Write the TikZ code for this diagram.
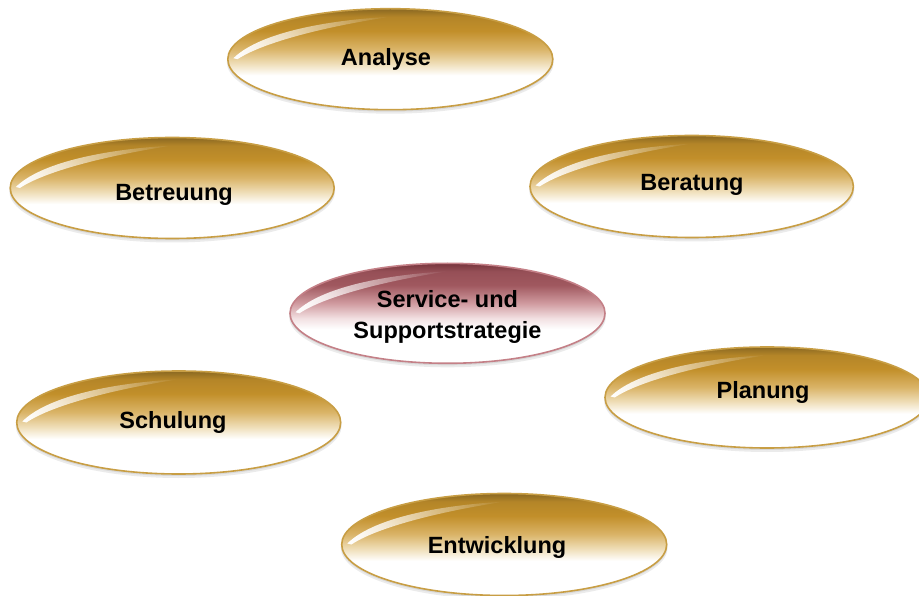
\documentclass[tikz,border=0pt]{standalone}
\usepackage{fontspec}
\setmainfont{Liberation Sans}
\usetikzlibrary{shapes.geometric,fadings}
\definecolor{gdark}{RGB}{138,104,34}
\definecolor{ggold}{RGB}{194,143,42}
\definecolor{glight}{RGB}{218,180,104}
\definecolor{gpale}{RGB}{240,224,188}
\definecolor{gborder}{RGB}{200,158,68}
\definecolor{rdark}{RGB}{118,52,60}
\definecolor{rmid}{RGB}{160,88,95}
\definecolor{rlight}{RGB}{208,155,160}
\definecolor{rpale}{RGB}{242,224,226}
\definecolor{rborder}{RGB}{196,128,135}
\pgfdeclareverticalshading{goldsh}{100bp}{color(0bp)=(white); color(42bp)=(white); color(47.5bp)=(gpale); color(55bp)=(glight); color(64bp)=(ggold); color(71bp)=(ggold!75!gdark); color(75bp)=(gdark); color(100bp)=(gdark)}
\pgfdeclareverticalshading{rosesh}{100bp}{color(0bp)=(white); color(42bp)=(white); color(47.5bp)=(rpale); color(55bp)=(rlight); color(64bp)=(rmid); color(71bp)=(rmid!75!rdark); color(75bp)=(rdark); color(100bp)=(rdark)}
\tikzfading[name=hlfade, left color=transparent!0, right color=transparent!100]
\tikzset{
  goldell/.style={ellipse, inner sep=0pt, shading=goldsh, draw=gborder, line width=1.6pt},
  roseell/.style={ellipse, inner sep=0pt, shading=rosesh, draw=rborder, line width=1.6pt},
  lbl/.style={inner sep=0pt, align=center, text=black, font=\fontsize{23.5}{31.7}\selectfont\bfseries}
}
\newcommand\glossy[9]{%
  \fill[black,opacity=0.08] (#2,#3+3) ellipse [x radius=#4+1, y radius=#5+1];
  \fill[black,opacity=0.08] (#2,#3+1.5) ellipse [x radius=#4+0.5, y radius=#5+0.5];
  \node[#6, minimum width={2*#4pt}, minimum height={2*#5pt}] (#1) at (#2,#3) {};
  \begin{scope}[shift={(#2,#3)}, x={(#4pt,0pt)}, y={(0pt,#5pt)}]
    \fill[white, path fading=hlfade] (-0.965,0.02) .. controls (-0.82,0.48) and (-0.45,0.76) .. (0.0,0.84) .. controls (-0.45,0.62) and (-0.8,0.3) .. (-0.94,0.0) -- cycle;
  \end{scope}
  \node[lbl] (#1-t) at (#7,#8) {#9};
}
\begin{document}
\begin{tikzpicture}[x=1pt,y=-1pt]
\fill[white] (0,0) rectangle (919,596);
\useasboundingbox (0,0) rectangle (919,596);
\glossy{analyse}{390.3}{59.2}{162.5}{50.5}{goldell}{386}{59.5}{Analyse}
\glossy{betreuung}{172.2}{188}{162}{50.5}{goldell}{174}{195}{Betreuung}
\glossy{beratung}{691.7}{186.5}{161.7}{51}{goldell}{692}{185}{Beratung}
\glossy{service}{447.5}{313.3}{157.5}{50}{roseell}{447.5}{317}{Service- und\\Supportstrategie}
\glossy{schulung}{178.7}{422.5}{162}{51.5}{goldell}{173}{422}{Schulung}
\glossy{planung}{767}{397.5}{162}{50.5}{goldell}{763}{392.5}{Planung}
\glossy{entwicklung}{504.2}{544.5}{162.5}{51}{goldell}{497}{547}{Entwicklung}
\end{tikzpicture}
\end{document}
